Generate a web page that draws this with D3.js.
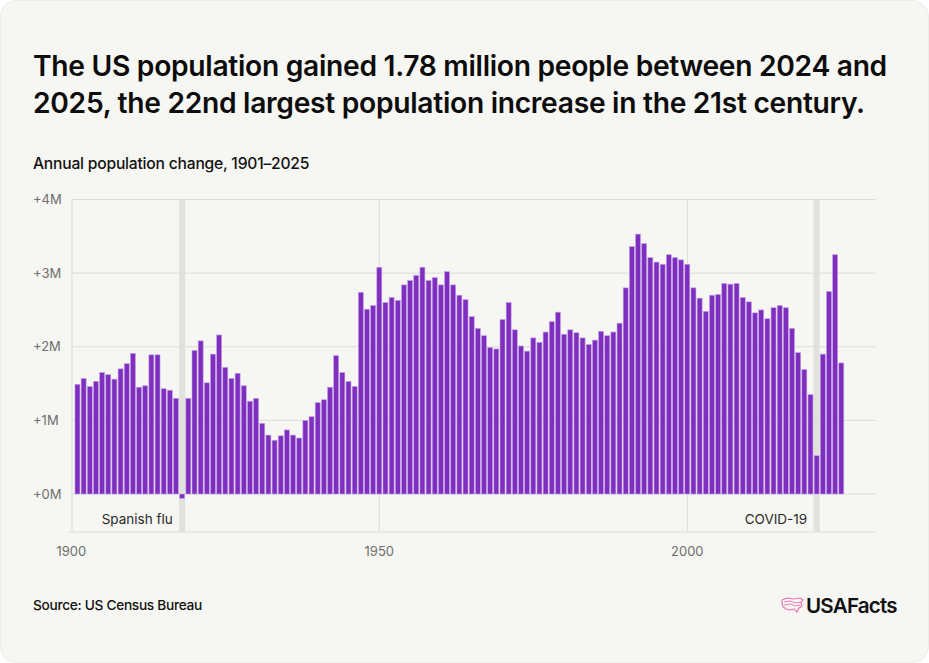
<!DOCTYPE html>
<html>
<head>
<meta charset="utf-8">
<script src="https://cdn.jsdelivr.net/npm/d3@7"></script>
<style>
  html, body { margin: 0; padding: 0; background: #ffffff; }
  svg { display: block; }
  text { font-family: Inter, "Noto Sans", sans-serif; }
</style>
</head>
<body>
<svg id="chart" width="929" height="663"></svg>
<script>
const titleLines = [
  "The US population gained 1.78 million people between 2024 and",
  "2025, the 22nd largest population increase in the 21st century."
];
const subtitle = "Annual population change, 1901\u20132025";
const source = "Source: US Census Bureau";

const years = d3.range(1901, 2026);
// Annual population change, millions
const changes = [
  1.49, 1.57, 1.46, 1.53, 1.65, 1.62, 1.56, 1.70, 1.77, 1.91,
  1.45, 1.47, 1.89, 1.89, 1.43, 1.41, 1.30, -0.06, 1.30, 1.95,
  2.08, 1.51, 1.90, 2.16, 1.72, 1.57, 1.64, 1.47, 1.26, 1.30,
  0.96, 0.80, 0.73, 0.79, 0.87, 0.80, 0.76, 1.00, 1.05, 1.24,
  1.28, 1.45, 1.88, 1.65, 1.53, 1.46, 2.74, 2.51, 2.56, 3.08,
  2.60, 2.67, 2.63, 2.84, 2.90, 2.97, 3.08, 2.90, 2.94, 2.84,
  3.02, 2.84, 2.70, 2.64, 2.41, 2.25, 2.15, 1.99, 1.97, 2.37,
  2.60, 2.23, 2.01, 1.94, 2.12, 2.06, 2.20, 2.34, 2.47, 2.17,
  2.23, 2.19, 2.12, 2.03, 2.09, 2.21, 2.15, 2.20, 2.32, 2.80,
  3.36, 3.53, 3.40, 3.21, 3.15, 3.12, 3.25, 3.21, 3.18, 3.12,
  2.80, 2.66, 2.48, 2.70, 2.71, 2.86, 2.85, 2.86, 2.67, 2.61,
  2.46, 2.50, 2.38, 2.53, 2.56, 2.53, 2.25, 1.92, 1.69, 1.35,
  0.52, 1.90, 2.75, 3.25, 1.78
];
const yTicks = [0, 1, 2, 3, 4];
const yTickLabels = ["+0M", "+1M", "+2M", "+3M", "+4M"];
const xTicks = [1900, 1950, 2000];
const events = [
  { year: 1918, label: "Spanish flu" },
  { year: 2021, label: "COVID-19" }
];

const data = years.map((y, i) => ({ year: y, value: changes[i] }));

const svg = d3.select("#chart");
const W = 929, H = 663;
const plot = { left: 72, right: 876, top: 199.5, bottom: 532 };

svg.append("rect").attr("x", 0.5).attr("y", 0.5).attr("width", W - 1).attr("height", H - 1)
  .attr("rx", 16).attr("fill", "#f6f6f2").attr("stroke", "#ececE8");

const x = d3.scaleLinear().domain([1900, 2000]).range([71.3, 687.3]);
const y = d3.scaleLinear().domain([0, 4]).range([494, 199.5]);
const barW = 5;

// Event bands
svg.append("g").selectAll("rect").data(events).join("rect")
  .attr("x", d => x(d.year) - 3.1).attr("width", 6.2)
  .attr("y", plot.top).attr("height", plot.bottom - plot.top)
  .attr("fill", "#e2e2dd");

// Horizontal gridlines
svg.append("g").selectAll("line").data(yTicks).join("line")
  .attr("x1", plot.left).attr("x2", plot.right)
  .attr("y1", d => y(d)).attr("y2", d => y(d))
  .attr("stroke", "#dcdcd8").attr("stroke-width", 1);

// Vertical gridlines
svg.append("g").selectAll("line").data(xTicks).join("line")
  .attr("x1", d => d === 1900 ? plot.left : x(d)).attr("x2", d => d === 1900 ? plot.left : x(d))
  .attr("y1", plot.top).attr("y2", plot.bottom)
  .attr("stroke", "#dcdcd8").attr("stroke-width", 1);

// Bottom axis line
svg.append("line").attr("x1", 69).attr("x2", plot.right)
  .attr("y1", plot.bottom).attr("y2", plot.bottom)
  .attr("stroke", "#dcdcd8").attr("stroke-width", 1);

// Bars
svg.append("g").selectAll("rect").data(data).join("rect")
  .attr("x", d => x(d.year) - barW / 2)
  .attr("width", barW)
  .attr("y", d => Math.min(y(d.value), y(0)))
  .attr("height", d => Math.abs(y(d.value) - y(0)))
  .attr("fill", "#7f2fc0")
  .attr("stroke", "#c4a2e6")
  .attr("stroke-width", 0.6);

// Y tick labels
svg.append("g").selectAll("text").data(yTicks).join("text")
  .attr("x", 33).attr("y", d => y(d) + 4.5)
  .attr("font-size", 13).attr("fill", "#6e6e6e")
  .text((d, i) => yTickLabels[i]);

// X tick labels
svg.append("g").selectAll("text").data(xTicks).join("text")
  .attr("x", d => x(d)).attr("y", 556)
  .attr("text-anchor", "middle")
  .attr("font-size", 13).attr("fill", "#6e6e6e")
  .text(d => d);

// Event labels
svg.append("g").selectAll("text").data(events).join("text")
  .attr("x", d => x(d.year) - 9.5).attr("y", 524)
  .attr("text-anchor", "end")
  .attr("font-size", 13.5).attr("fill", "#2a2a2a")
  .text(d => d.label);

// Title
function fitText(sel, target) {
  const w = sel.node().getComputedTextLength();
  const fs = parseFloat(sel.attr("font-size"));
  sel.attr("font-size", fs * target / w);
}
const t1 = svg.append("text").attr("x", 33).attr("y", 76)
  .attr("font-size", 26).attr("font-weight", 600).attr("fill", "#0c0c0c")
  .attr("letter-spacing", -0.3).text(titleLines[0]);
fitText(t1, 853);
const t2 = svg.append("text").attr("x", 33).attr("y", 112.5)
  .attr("font-size", t1.attr("font-size")).attr("font-weight", 600).attr("fill", "#0c0c0c")
  .attr("letter-spacing", -0.3).text(titleLines[1]);

const st = svg.append("text").attr("x", 33).attr("y", 169)
  .attr("font-size", 15).attr("font-weight", 500).attr("fill", "#111")
  .attr("letter-spacing", -0.2).text(subtitle);
fitText(st, 276);

const src = svg.append("text").attr("x", 33).attr("y", 609.5)
  .attr("font-size", 13.5).attr("font-weight", 500).attr("fill", "#111")
  .attr("letter-spacing", -0.3).text(source);
fitText(src, 169);

// Logo
const logo = svg.append("g").attr("transform", "translate(781,597)");
logo.append("path")
  .attr("d", "M1,3 L6,1 L13,2 L19,1 L22,3 L20,6 L21,9 L18,11 L16,15 L13,12 L8,13 L5,12 L2,10 L1,6 Z")
  .attr("fill", "none").attr("stroke", "#ec6fb0").attr("stroke-width", 1.1);
logo.append("path")
  .attr("d", "M3,5 L9,4 L15,6 L20,5 M3,8 L9,7 L15,9 L19,8")
  .attr("fill", "none").attr("stroke", "#ec6fb0").attr("stroke-width", 0.9);
const lt = svg.append("text").attr("x", 806).attr("y", 613)
  .attr("font-size", 21).attr("font-weight", 600).attr("fill", "#111")
  .attr("letter-spacing", -0.8).text("USAFacts");
fitText(lt, 91);
</script>
</body>
</html>
